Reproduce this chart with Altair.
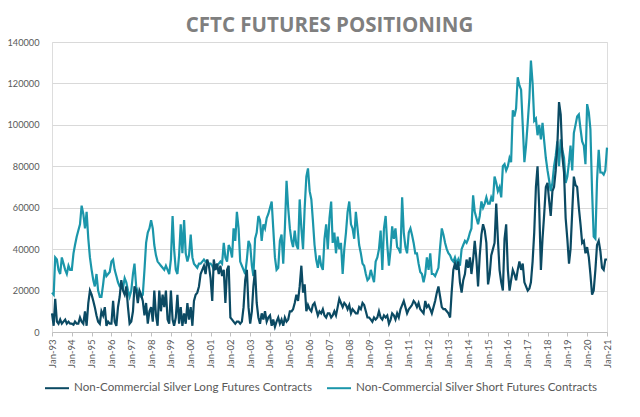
import altair as alt
import pandas as pd

LONG = "Non-Commercial Silver Long Futures Contracts"
SHORT = "Non-Commercial Silver Short Futures Contracts"

start_date = "1993-01-01"

# monthly values, Jan-93 .. Jan-21
long_vals = [
    9000, 3000, 16000, 5000, 4000, 6000, 4000, 5000, 6000, 4000, 5000, 4000,          # 1993
    4000, 3500, 5000, 4000, 4000, 7000, 5000, 4000, 10000, 3000, 14000, 20000,        # 1994
    18000, 15000, 12000, 8000, 5000, 4000, 10000, 8000, 12000, 3000, 5000, 4000,      # 1995
    4000, 15000, 5000, 3000, 12000, 17000, 25000, 20000, 18000, 22000, 12000, 4000,   # 1996
    5000, 10000, 22000, 20000, 14000, 20000, 18000, 15000, 8000, 14000, 4000, 10000,  # 1997
    12000, 5000, 20000, 8000, 3000, 20000, 10000, 18000, 12000, 20000, 6000, 4000,    # 1998
    20000, 6000, 3000, 7000, 18000, 4000, 12000, 3000, 9000, 4000, 14000, 6000,       # 1999
    12000, 3000, 15000, 18000, 19000, 22000, 28000, 30000, 32000, 28000, 35000, 32000,  # 2000
    26000, 15000, 35000, 30000, 33000, 28000, 32000, 27000, 30000, 14000, 30000, 32000, # 2001
    7000, 6000, 5000, 4000, 5000, 5000, 4000, 5000, 12000, 25000, 30000, 12000,       # 2002
    4000, 10000, 22000, 30000, 14000, 7000, 4000, 9000, 6000, 10000, 5000, 7000,      # 2003
    8000, 3000, 6000, 2500, 5000, 7000, 4000, 6000, 3000, 7000, 5000, 6000,           # 2004
    10000, 10000, 11000, 14000, 18000, 15000, 22000, 32000, 19000, 23000, 10000, 13000, # 2005
    11000, 10000, 13000, 14000, 11000, 8000, 10000, 9000, 11000, 8000, 7000, 9000,    # 2006
    9000, 7000, 8000, 10000, 8000, 12000, 16000, 14000, 12000, 14000, 13000, 11000,   # 2007
    13000, 9000, 11000, 10000, 9000, 9000, 12000, 11000, 14000, 13000, 10000, 7000,   # 2008
    7000, 6000, 5000, 7000, 6000, 7000, 10000, 7000, 6000, 8000, 7000, 8000,          # 2009
    4000, 6000, 9000, 8000, 6000, 9000, 7000, 11000, 13000, 15000, 12000, 9000,       # 2010
    11000, 12000, 13000, 15000, 14000, 12000, 14000, 11000, 10000, 9000, 15000, 12000, # 2011
    13000, 11000, 9000, 12000, 15000, 19000, 22000, 17000, 12000, 11000, 11000, 10000, # 2012
    9000, 7000, 19000, 30000, 33000, 30000, 34000, 24000, 19000, 25000, 28000, 35000, # 2013
    31000, 36000, 28000, 35000, 44000, 35000, 22000, 37000, 47000, 52000, 49000, 43000, # 2014
    23000, 28000, 37000, 40000, 43000, 62000, 45000, 30000, 24000, 20000, 45000, 52000, # 2015
    30000, 20000, 25000, 30000, 28000, 25000, 30000, 34000, 30000, 33000, 24000, 22000, # 2016
    20000, 21000, 24000, 34000, 48000, 70000, 80000, 60000, 30000, 45000, 57000, 70000, # 2017
    72000, 63000, 56000, 68000, 70000, 78000, 90000, 111000, 105000, 85000, 77000, 55000, # 2018
    45000, 33000, 40000, 58000, 75000, 71000, 70000, 60000, 52000, 43000, 44000, 38000, # 2019
    41000, 36000, 28000, 18000, 20000, 30000, 42000, 44000, 39000, 31000, 30000, 35000, # 2020
    35000,                                                                             # 2021
]

short_vals = [
    19000, 18000, 36000, 35000, 30000, 28000, 36000, 33000, 30000, 28000, 32000, 30000,  # 1993
    30000, 38000, 42000, 46000, 49000, 52000, 61000, 57000, 50000, 58000, 45000, 36000,  # 1994
    30000, 25000, 22000, 28000, 20000, 17000, 17000, 23000, 30000, 27000, 28000, 29000,  # 1995
    34000, 35000, 30000, 27000, 24000, 22000, 22000, 21000, 26000, 24000, 20000, 17000,  # 1996
    20000, 28000, 33000, 22000, 19000, 18000, 17000, 18000, 30000, 43000, 48000, 50000,  # 1997
    54000, 50000, 42000, 37000, 34000, 33000, 32000, 31000, 30000, 32000, 30000, 28000,  # 1998
    35000, 56000, 40000, 30000, 28000, 37000, 52000, 38000, 54000, 38000, 34000, 37000,  # 1999
    47000, 36000, 33000, 32000, 31000, 33000, 33000, 34000, 35000, 34000, 33000, 33000,  # 2000
    33000, 32000, 30000, 31000, 32000, 33000, 34000, 33000, 43000, 36000, 34000, 42000,  # 2001
    40000, 36000, 50000, 44000, 58000, 50000, 34000, 32000, 30000, 28000, 35000, 44000,  # 2002
    42000, 32000, 27000, 45000, 48000, 56000, 54000, 44000, 52000, 50000, 55000, 57000,  # 2003
    60000, 63000, 50000, 36000, 30000, 31000, 44000, 47000, 33000, 50000, 73000, 60000,  # 2004
    50000, 44000, 41000, 49000, 42000, 40000, 64000, 50000, 40000, 60000, 75000, 79000,  # 2005
    68000, 64000, 54000, 42000, 35000, 31000, 37000, 32000, 30000, 45000, 52000, 40000,  # 2006
    55000, 63000, 43000, 48000, 38000, 46000, 40000, 43000, 28000, 40000, 48000, 58000,  # 2007
    63000, 52000, 50000, 45000, 58000, 50000, 42000, 38000, 33000, 32000, 28000, 25000,  # 2008
    26000, 30000, 27000, 24000, 34000, 36000, 40000, 49000, 30000, 50000, 56000, 42000,  # 2009
    32000, 40000, 51000, 45000, 50000, 41000, 40000, 38000, 65000, 48000, 41000, 38000,  # 2010
    48000, 50000, 47000, 43000, 38000, 38000, 33000, 29000, 28000, 24000, 28000, 36000,  # 2011
    30000, 38000, 28000, 28000, 27000, 29000, 31000, 41000, 50000, 47000, 43000, 40000,  # 2012
    38000, 37000, 35000, 34000, 36000, 33000, 35000, 32000, 40000, 42000, 44000, 43000,  # 2013
    45000, 48000, 50000, 66000, 58000, 55000, 52000, 56000, 63000, 60000, 62000, 65000,  # 2014
    62000, 62000, 65000, 63000, 75000, 72000, 68000, 70000, 65000, 80000, 81000, 78000,  # 2015
    80000, 84000, 82000, 107000, 104000, 108000, 123000, 119000, 117000, 100000, 82000, 90000,  # 2016
    101000, 113000, 131000, 120000, 102000, 103000, 95000, 100000, 93000, 101000, 92000, 84000,  # 2017
    78000, 73000, 68000, 72000, 80000, 85000, 92000, 80000, 93000, 88000, 84000, 72000,  # 2018
    75000, 82000, 90000, 78000, 96000, 100000, 104000, 105000, 98000, 92000, 90000, 81000,  # 2019
    110000, 106000, 98000, 68000, 46000, 45000, 73000, 88000, 77000, 77000, 76000, 78000,  # 2020
    89000,                                                                                # 2021
]

years = list(range(1993, 2022))
y_ticks = [0, 20000, 40000, 60000, 80000, 100000, 120000, 140000]

dates = pd.date_range(start_date, periods=len(long_vals), freq="MS").strftime("%Y-%m-%d")
df = pd.concat([
    pd.DataFrame({"date": dates, "value": long_vals, "series": LONG}),
    pd.DataFrame({"date": dates, "value": short_vals, "series": SHORT}),
])

FONT = "Lato"
color = alt.Color(
    "series:N",
    scale=alt.Scale(domain=[LONG, SHORT], range=["#0b4a63", "#1b96aa"]),
    legend=alt.Legend(
        title=None,
        orient="none",
        direction="horizontal",
        legendX=-8,
        legendY=333,
        symbolType="stroke",
        symbolStrokeWidth=2,
        symbolSize=576,
        labelFont=FONT,
        labelFontSize=11.6,
        labelColor="#595959",
        labelLimit=400,
        columnPadding=10,
        labelOffset=4,
    ),
)

x = alt.X(
    "date:T",
    title=None,
    scale=alt.Scale(domain=[alt.DateTime(year=1993, month=1, date=1),
                            alt.DateTime(year=2021, month=1, date=1)]),
    axis=alt.Axis(
        values=[alt.DateTime(year=yy, month=1, date=1) for yy in years],
        format="%b-%y",
        labelAngle=270,
        labelFont=FONT,
        labelFontSize=9.5,
        labelColor="#595959",
        grid=False,
        domainColor="#bfbfbf",
        tickColor="#bfbfbf",
        tickSize=4,
        labelPadding=3,
        labelOverlap=False,
    ),
)
y = alt.Y(
    "value:Q",
    title=None,
    scale=alt.Scale(domain=[0, 140000], nice=False),
    axis=alt.Axis(
        values=y_ticks,
        format="d",
        labelFont=FONT,
        labelFontSize=9.2,
        labelColor="#595959",
        domain=False,
        ticks=False,
        gridColor="#d9d9d9",
        labelPadding=13,
    ),
)

base = alt.Chart(df)
short_line = base.transform_filter(alt.datum.series == SHORT).mark_line(strokeWidth=2.2).encode(x=x, y=y, color=color)
long_line = base.transform_filter(alt.datum.series == LONG).mark_line(strokeWidth=2.2).encode(x=x, y=y, color=color)

chart = alt.layer(short_line, long_line).properties(
    width=555,
    height=290,
    title=alt.TitleParams(
        "CFTC FUTURES POSITIONING",
        font="Open Sans",
        fontSize=20.5,
        fontWeight="bold",
        color="#7f7f7f",
        anchor="middle",
        offset=2,
    ),
    autosize=alt.AutoSizeParams(type="none"),
    padding={"left": 44, "top": 34, "right": 25, "bottom": 75},
).configure_view(stroke=None).configure(background="white")

chart.save("out.html", embed_options={"renderer": "svg", "actions": False})
